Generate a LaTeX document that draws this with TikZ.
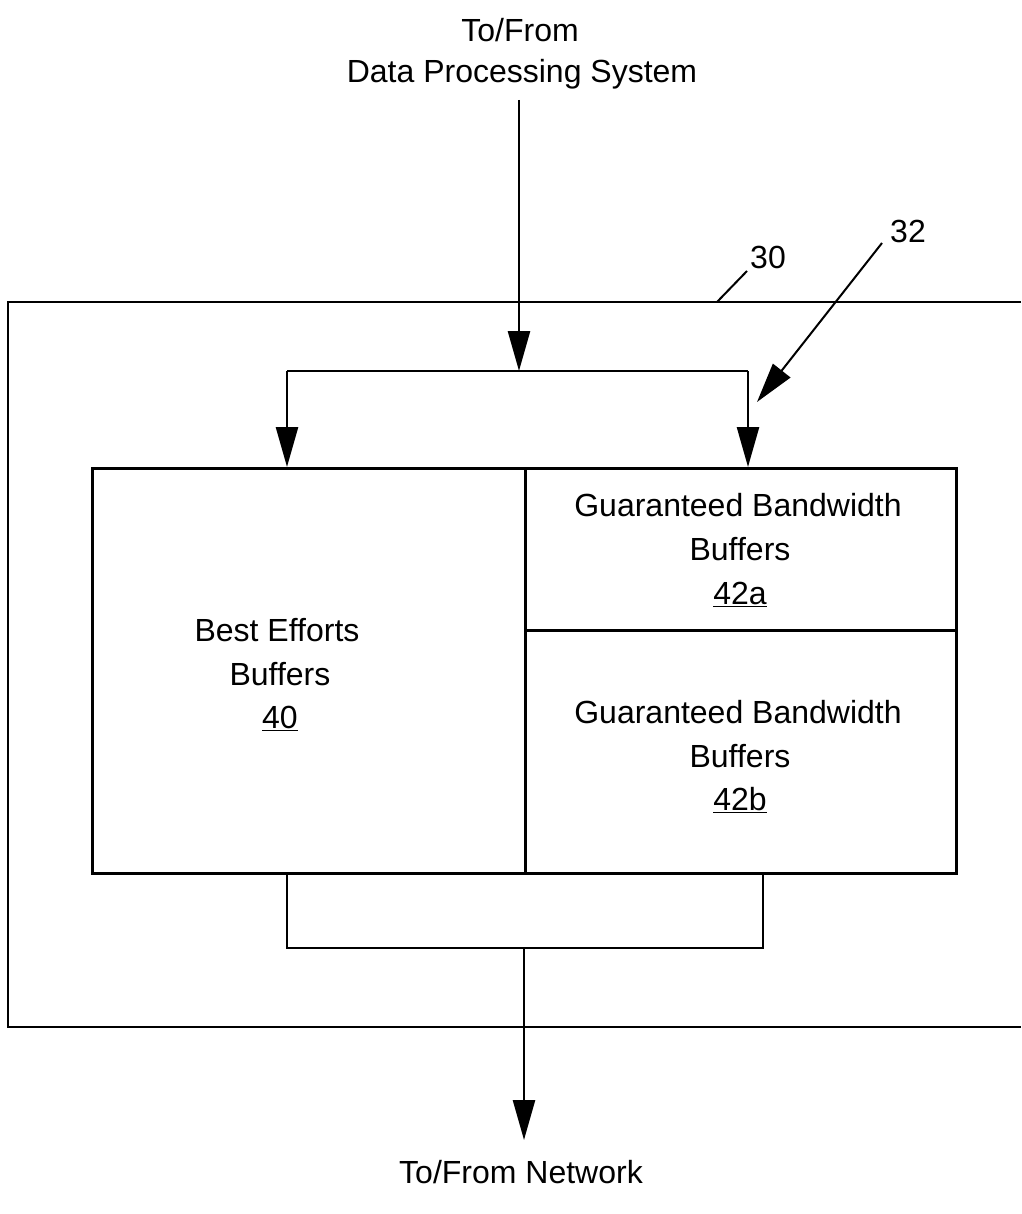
\documentclass[tikz,border=0pt]{standalone}
\usepackage{fontspec}
\setmainfont{Liberation Sans}
\usetikzlibrary{arrows.meta}
\begin{document}
\begin{tikzpicture}[x=1pt,y=-1pt,
  ln/.style={line width=2.6pt},
  arr/.style={ln,-{Triangle[length=40pt,width=22pt]}},
  lbl/.style={font=\fontsize{32}{44}\selectfont, inner sep=0pt, align=center}]
\useasboundingbox (0,0) rectangle (1021,1214);
% labels
\node[lbl] (top1) at (520,30) {To/From};
\node[lbl] (top2) at (522,74) {Data Processing System};
\node[lbl] (bot) at (521,1172) {To/From Network};
\node[lbl] (n30) at (768,257) {30};
\node[lbl] (n32) at (908,231) {32};
% outer box 30
\coordinate (otr) at (1021,302);
\coordinate (otl) at (8,302);
\coordinate (obl) at (8,1027);
\coordinate (obr) at (1021,1027);
\draw[ln] (otr) -- (otl) -- (obl) -- (obr);
\coordinate (l30a) at (747,271);
\coordinate (l30b) at (717,302);
\draw[line width=2pt] (l30a) -- (l30b);
% inner boxes
\node[draw, ln, minimum width=433pt, minimum height=405pt, inner sep=0pt, anchor=north west] (be) at (91,467) {};
\node[draw, ln, minimum width=431pt, minimum height=162pt, inner sep=0pt, anchor=north west] (gba) at (524,467) {};
\node[draw, ln, minimum width=431pt, minimum height=243pt, inner sep=0pt, anchor=north west] (gbb) at (524,629) {};
\node[lbl] at (277,630) {Best Efforts};
\node[lbl] at (280,674) {Buffers};
\node[lbl] at (280,718) {\underline{40}};
\node[lbl] at (738,505) {Guaranteed Bandwidth};
\node[lbl] at (740,549) {Buffers};
\node[lbl] at (740,594) {\underline{42a}};
\node[lbl] at (738,712) {Guaranteed Bandwidth};
\node[lbl] at (740,756) {Buffers};
\node[lbl] at (740,800) {\underline{42b}};
% top connectors
\coordinate (split) at (519,371);
\coordinate (sl) at (287,371);
\coordinate (sr) at (748,371);
\draw[arr] (519,100) -- (split);
\draw[ln] (sl) -- (sr);
\draw[arr] (sl) -- (287,467);
\draw[arr] (sr) -- (748,467);
% arrow 32
\coordinate (a32s) at (882,243);
\coordinate (a32e) at (757,402);
\draw[line width=2pt,-{Triangle[length=40pt,width=22pt]}] (a32s) -- (a32e);
% bottom connectors
\coordinate (bl) at (287,948);
\coordinate (br) at (763,948);
\coordinate (bm) at (524,948);
\draw[ln] (287,872) -- (bl) -- (br) -- (763,872);
\draw[arr] (bm) -- (524,1140);
\end{tikzpicture}
\end{document}
